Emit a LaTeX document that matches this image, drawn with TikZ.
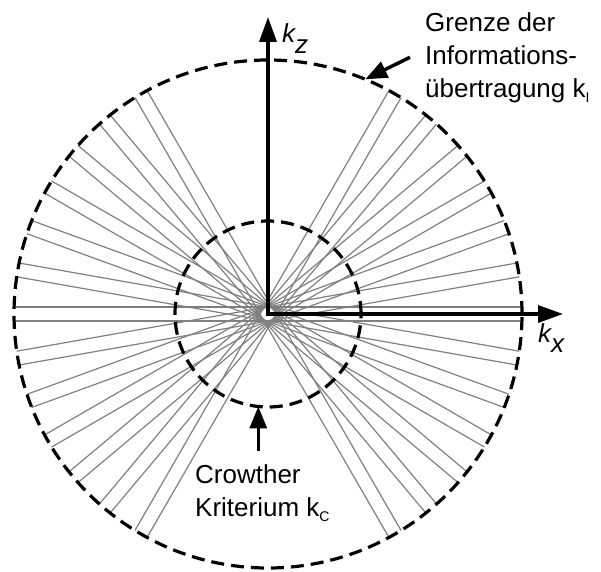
\documentclass[tikz,border=0pt]{standalone}
\usepackage{fontspec}
\setmainfont{Liberation Sans}
\usetikzlibrary{arrows.meta,calc}

% lowered letter of the same size (axis labels) and small index
\newcommand{\lowsub}[1]{\raisebox{-10pt}{\itshape #1}}
\newcommand{\smallsub}[1]{\raisebox{-5pt}{\fontsize{14}{14}\selectfont #1}}

\begin{document}
\begin{tikzpicture}[x=1pt,y=1pt,
  axis/.style={line width=3.3pt,
    {Triangle[length=25pt,width=17pt]}-{Triangle[length=25pt,width=17pt]}},
  pointer/.style={line width=3.5pt,-{Triangle[length=22pt,width=17pt]}},
  ring/.style={line width=3.2pt,dash pattern=on 13pt off 7pt},
  slab/.style={gray,line width=1.2pt},
  label/.style={font=\fontsize{26}{33}\selectfont,inner sep=0pt,align=left}]
  \useasboundingbox (-268,-257) rectangle (333,314);
  % origin and the two radii
  \coordinate (O) at (0,0);
  \def\kI{254}
  \def\kC{93}
  % central sections of the tilt series, -60 ... 60 deg
  \foreach \a in {-60,-50,...,60}{
    \begin{scope}[rotate=\a]
      \draw[slab] (-\kI,7) -- (\kI,7);
      \draw[slab] (-\kI,-7) -- (\kI,-7);
    \end{scope}
  }
  % limits
  \draw[ring] (O) circle[radius=\kI];
  \draw[ring] (O) circle[radius=\kC];
  % axes
  \coordinate (kz) at (0,297);
  \coordinate (kx) at (295,0);
  \draw[axis] (kz) -- (O) -- (kx);
  \node[label,anchor=base west] (kzlab) at (14,271) {\itshape k\lowsub{z}};
  \node[label,anchor=base west] (kxlab) at (270,-28) {\itshape k\lowsub{x}};
  % annotations (base = last line)
  \coordinate (kIpt) at (67.5:\kI);
  \coordinate (kCpt) at (-96:\kC);
  \node[label,anchor=base west] (grenze) at (157,217)
    {Grenze der\\Informations-\\übertragung k\smallsub{I}};
  \node[label,anchor=base west] (crowther) at (-73,-202)
    {Crowther\\Kriterium k\smallsub{C}};
  \draw[pointer] ($(grenze.west)+(-15,0)$) -- (kIpt);
  \draw[pointer] ($(crowther.north -| kCpt)+(0,13)$) -- (kCpt);
\end{tikzpicture}
\end{document}
